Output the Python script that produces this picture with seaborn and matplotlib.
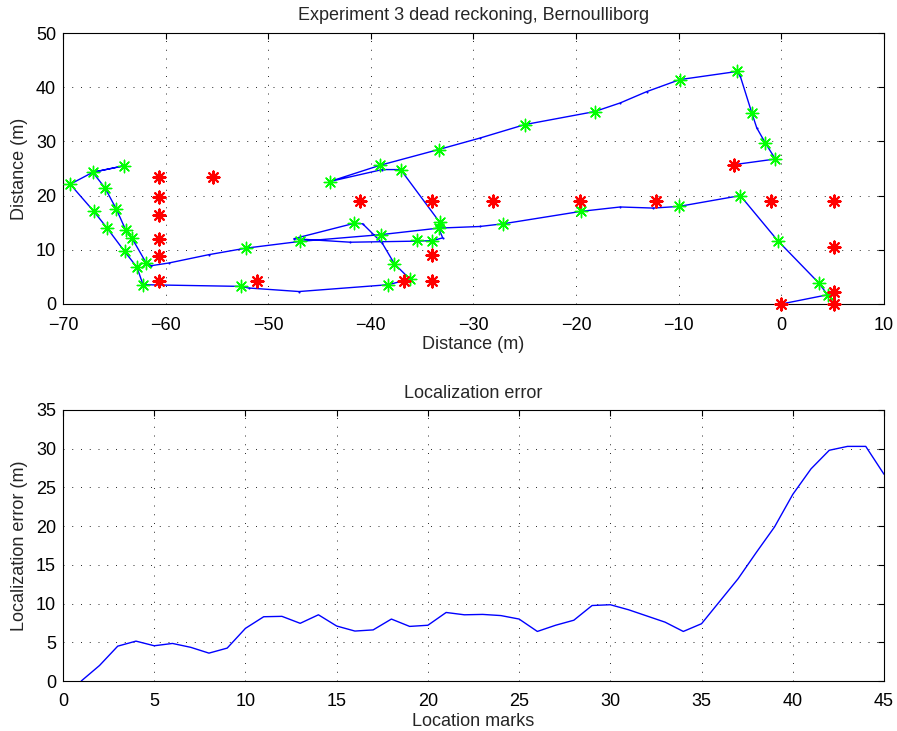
import numpy as np
import pandas as pd
import matplotlib
matplotlib.use("Agg")
import matplotlib.pyplot as plt
import seaborn as sns

# Dead-reckoning trajectory vertices (m)
path_x = [0.0, 4.5, 3.65, -0.36, -4.0, -10.0, -12.5, -15.7, -19.5, -27.1, -29.4,
          -33.4, -39.0, -46.9, -52.2, -55.8, -59.7, -61.4, -61.9, -63.3, -63.9,
          -64.8, -65.9, -67.1, -64.06, -67.1, -69.3, -67.0, -65.7, -64.0, -62.8,
          -62.2, -52.7, -51.9, -47.0, -38.3, -36.2, -37.7, -38.9, -40.8, -41.6,
          -47.5, -42.0, -35.5, -34.0, -33.0, -33.4, -33.3, -37.1, -38.9, -44.0,
          -39.1, -33.4, -29.4, -25.0, -18.2, -15.7, -13.1, -9.9, -4.33, -4.0,
          -2.87, -2.4, -1.56, -0.59, -4.66]
path_y = [0.0, 1.7, 3.87, 11.7, 20.0, 18.0, 17.7, 17.9, 17.1, 14.8, 14.3,
          14.0, 12.8, 11.55, 10.3, 9.1, 7.56, 7.07, 7.6, 12.2, 13.7,
          17.5, 21.4, 24.3, 25.5, 24.3, 22.1, 17.1, 14.0, 9.7, 6.8,
          3.56, 3.25, 2.95, 2.3, 3.56, 4.6, 7.4, 11.25, 14.8, 14.9,
          12.05, 11.4, 11.6, 11.7, 12.2, 14.0, 15.1, 24.8, 24.8, 22.6,
          25.6, 28.5, 30.6, 33.1, 35.5, 37.1, 39.2, 41.4, 42.9, 42.0,
          35.2, 32.5, 29.7, 26.75, 25.7]

# Estimated positions at the location marks
est_x = [0.0, 4.5, 3.65, -0.36, -4.0, -10.0, -19.5, -27.1, -33.4, -39.0, -46.9,
         -52.2, -61.9, -63.3, -63.9, -64.8, -65.9, -67.1, -64.06, -69.3, -67.0,
         -65.7, -64.0, -62.8, -62.2, -52.7, -38.3, -36.2, -37.7, -41.6, -35.5,
         -34.0, -33.3, -37.1, -44.0, -39.1, -33.4, -25.0, -18.2, -9.9, -4.33,
         -2.87, -1.56, -0.59]
est_y = [0.0, 1.7, 3.87, 11.7, 20.0, 18.0, 17.1, 14.8, 14.0, 12.8, 11.55,
         10.3, 7.6, 12.2, 13.7, 17.5, 21.4, 24.3, 25.5, 22.1, 17.1,
         14.0, 9.7, 6.8, 3.56, 3.25, 3.56, 4.6, 7.4, 14.9, 11.9,
         11.7, 15.1, 24.8, 22.6, 25.6, 28.5, 33.1, 35.5, 41.4, 42.9,
         35.2, 29.7, 26.75]

# Surveyed location marks
mark_x = [0.0, 5.1, 5.1, 5.1, 5.1, -0.98, -4.66, -12.25, -19.6, -28.1, -34.0,
          -41.1, -34.0, -34.0, -36.75, -51.1, -60.6, -60.6, -60.6, -60.6, -60.6,
          -60.6, -55.4]
mark_y = [0.0, 0.05, 2.2, 10.6, 19.06, 19.06, 25.7, 19.06, 19.06, 19.06, 19.06,
          19.06, 9.0, 4.2, 4.2, 4.3, 4.3, 8.9, 12.0, 16.4, 19.7,
          23.4, 23.4]

# Localization error per location mark
marks = list(range(1, 46))
loc_error = [0.0, 2.0, 4.5, 5.15, 4.55, 4.85, 4.35, 3.6, 4.25, 6.8,
             8.3, 8.35, 7.45, 8.55, 7.1, 6.45, 6.6, 8.0, 7.05, 7.2,
             8.85, 8.55, 8.6, 8.45, 8.0, 6.4, 7.2, 7.85, 9.75, 9.85,
             9.2, 8.4, 7.6, 6.4, 7.4, 10.3, 13.2, 16.6, 19.9, 24.1,
             27.4, 29.8, 30.3, 30.3, 26.7]

sns.set_style("white")
plt.rcParams["font.family"] = ["Liberation Sans", "DejaVu Sans"]
plt.rcParams["font.size"] = 13

FS = 13

fig = plt.figure(figsize=(8.97, 7.31), dpi=100)
ax1 = fig.add_axes([63 / 897, 1 - 304 / 731, 821 / 897, 271 / 731])
ax2 = fig.add_axes([63 / 897, 1 - 681 / 731, 821 / 897, 271 / 731])

grid_kw = dict(color="0.15", linestyle=(0, (1, 8)), linewidth=0.7)


def style_axes(ax):
    ax.grid(True, **grid_kw)
    ax.set_axisbelow(True)
    ax.tick_params(direction="in", top=True, right=True, length=4,
                   width=0.8, labelsize=FS, colors="black")
    ax.tick_params(axis="x", pad=9)
    ax.tick_params(axis="y", pad=5)
    for sp in ax.spines.values():
        sp.set_visible(True)
        sp.set_color("black")
        sp.set_linewidth(0.8)


# Trajectory plot
df_path = pd.DataFrame({"x": path_x, "y": path_y})
sns.lineplot(data=df_path, x="x", y="y", sort=False, estimator=None, ax=ax1,
             color="#0000ff", linewidth=1.0, marker=".", markersize=3,
             markeredgewidth=0)
df_est = pd.DataFrame({"x": est_x, "y": est_y})
sns.scatterplot(data=df_est, x="x", y="y", ax=ax1, marker=(8, 2, 0), s=80,
                color="#00ff00", edgecolor="#00ff00", linewidth=1.0, zorder=3,
                clip_on=False)
df_mark = pd.DataFrame({"x": mark_x, "y": mark_y})
sns.scatterplot(data=df_mark, x="x", y="y", ax=ax1, marker=(8, 2, 0), s=75,
                color="#ff0000", edgecolor="#ff0000", linewidth=1.5, zorder=4,
                clip_on=False)

ax1.set_xlim(-70, 10)
ax1.set_ylim(0, 50)
ax1.set_xticks(np.arange(-70, 11, 10))
ax1.set_yticks(np.arange(0, 51, 10))
ax1.set_title("Experiment 3 dead reckoning, Bernoulliborg", fontsize=FS, pad=9)
ax1.set_xlabel("Distance (m)", fontsize=FS, labelpad=2)
ax1.set_ylabel("Distance (m)", fontsize=FS, labelpad=6)
style_axes(ax1)

# Error plot
df_err = pd.DataFrame({"mark": marks, "error": loc_error})
sns.lineplot(data=df_err, x="mark", y="error", ax=ax2, color="#0000ff",
             linewidth=1.0)
ax2.set_xlim(0, 45)
ax2.set_ylim(0, 35)
ax2.set_xticks(np.arange(0, 46, 5))
ax2.set_yticks(np.arange(0, 36, 5))
ax2.set_title("Localization error", fontsize=FS, pad=9)
ax2.set_xlabel("Location marks", fontsize=FS, labelpad=2)
ax2.set_ylabel("Localization error (m)", fontsize=FS, labelpad=6)
style_axes(ax2)

fig.savefig("out.png", dpi=100)
